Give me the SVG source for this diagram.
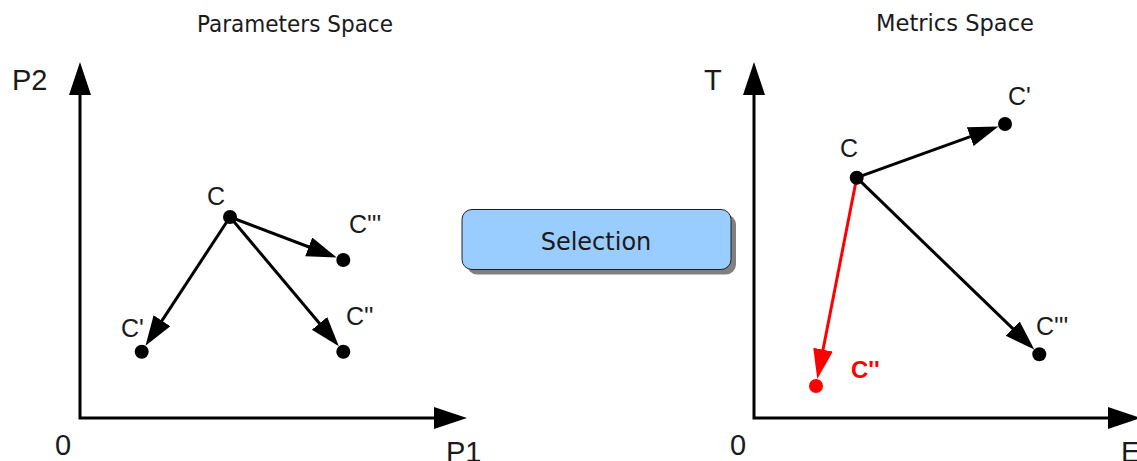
<svg xmlns="http://www.w3.org/2000/svg" width="1137" height="461" viewBox="0 0 1137 461">
<style>
.title{font-family:"DejaVu Sans",sans-serif;font-size:23px;fill:#1a1a1a}
.axl{font-family:"Liberation Sans",Arial,sans-serif;font-size:29px;fill:#1a1a1a}
.lbl{font-family:"Liberation Sans",Arial,sans-serif;font-size:25px;fill:#1a1a1a}
.lblr{font-family:"Liberation Sans",Arial,sans-serif;font-size:24px;font-weight:bold;fill:#ff0000}
.axis{fill:none;stroke:#000;stroke-width:3;marker-start:url(#axh);marker-end:url(#axh)}
.edge{fill:none;stroke:#000;stroke-width:3;marker-end:url(#ah)}
.edger{fill:none;stroke:#ff0000;stroke-width:3;marker-end:url(#ahr)}
.dot{fill:#000}
.dotr{fill:#ff0000}
.sel{font-family:"DejaVu Sans",sans-serif;font-size:24px;fill:#1a1a1a}
</style>
<defs>
<marker id="axh" markerUnits="userSpaceOnUse" markerWidth="34" markerHeight="24" refX="23" refY="11" orient="auto-start-reverse"><path d="M0,0 L33,11 L0,22 z" fill="#000"/></marker>
<marker id="ah" markerUnits="userSpaceOnUse" markerWidth="31" markerHeight="22" refX="20" refY="10" orient="auto"><path d="M0,0 L30,10 L0,20 z" fill="#000"/></marker>
<marker id="ahr" markerUnits="userSpaceOnUse" markerWidth="31" markerHeight="22" refX="20" refY="10" orient="auto"><path d="M0,0 L30,10 L0,20 z" fill="#ff0000"/></marker>
</defs>
<rect width="1137" height="461" fill="#fff"/>
<text class="title" x="295" y="32" text-anchor="middle" textLength="196" lengthAdjust="spacingAndGlyphs">Parameters Space</text>
<text class="title" x="955" y="31" text-anchor="middle" textLength="158" lengthAdjust="spacingAndGlyphs">Metrics Space</text>
<g id="left-axes">
<path class="axis" d="M80,72 V418 H457"/>
<text class="axl" x="12" y="90">P2</text>
<text class="axl" x="55" y="455">0</text>
<text class="axl" x="446" y="462">P1</text>
</g>
<g id="right-axes">
<path class="axis" d="M754,72 V418 H1131"/>
<text class="axl" x="704" y="90">T</text>
<text class="axl" x="730" y="455">0</text>
<text class="axl" x="1121" y="462">E</text>
</g>
<g id="connectors">
<path class="edge" d="M230,217 L151,337.4"/>
<path class="edge" d="M230,217 L327.4,254"/>
<path class="edge" d="M230,217 L332.4,338.7"/>
<path class="edge" d="M856.7,177.7 L989,129.8"/>
<path class="edge" d="M856.7,177.7 L1027.1,342.5"/>
<path class="edger" d="M856.7,177.7 L819.2,369.3"/>
</g>
<g id="p-C"><circle class="dot" cx="230" cy="217" r="7"/><text class="lbl" x="207" y="205">C</text></g>
<g id="p-C1"><circle class="dot" cx="141.7" cy="351.7" r="7"/><text class="lbl" x="121" y="337">C'</text></g>
<g id="p-C2"><circle class="dot" cx="343.3" cy="351.7" r="7"/><text class="lbl" x="346" y="325">C''</text></g>
<g id="p-C3"><circle class="dot" cx="343.3" cy="260" r="7"/><text class="lbl" x="349" y="233">C'''</text></g>
<g id="selection">
<rect x="467" y="214.5" width="269" height="60" rx="10" fill="#808080"/>
<rect x="462" y="209.5" width="269" height="60" rx="10" fill="#99ccff" stroke="#222" stroke-width="1"/>
<text class="sel" x="596" y="250" text-anchor="middle">Selection</text>
</g>
<g id="m-C"><circle class="dot" cx="856.7" cy="177.7" r="7"/><text class="lbl" x="840" y="157">C</text></g>
<g id="m-C1"><circle class="dot" cx="1005" cy="124" r="7"/><text class="lbl" x="1008" y="105">C'</text></g>
<g id="m-C3"><circle class="dot" cx="1039.3" cy="354.3" r="7"/><text class="lbl" x="1036" y="335">C'''</text></g>
<g id="m-C2"><circle class="dotr" cx="816" cy="386" r="7"/><text class="lblr" x="851" y="378">C''</text></g>
</svg>
